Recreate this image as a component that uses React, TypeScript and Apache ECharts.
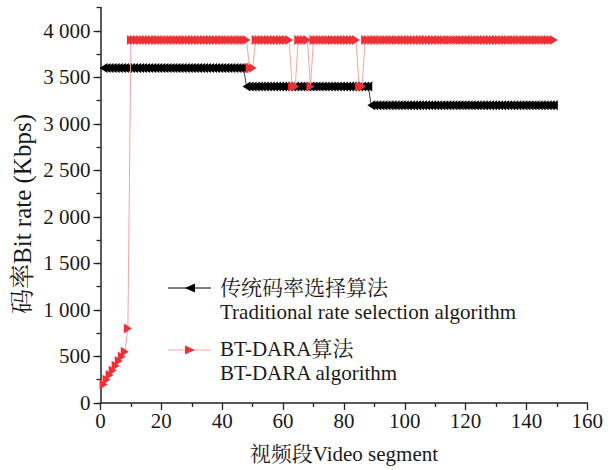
import React, { useEffect, useRef } from "react";
import * as echarts from "echarts";

// ---- Data ----
const xTicks = { min: 0, max: 160, interval: 20 };
const yTicks = { min: 0, max: 4250, interval: 500 };
const yMajorValues = [0, 500, 1000, 1500, 2000, 2500, 3000, 3500, 4000];

// Traditional rate selection: runs of [fromSegment, toSegment, bitrate]
const traditionalRuns: [number, number, number][] = [
  [1, 47, 3600],
  [48, 88, 3400],
  [89, 149, 3200],
];

// BT-DARA start-up ramp, segments 1..9
const btdaraRampStart = 1;
const btdaraRamp = [200, 250, 300, 350, 400, 450, 500, 550, 800];
// BT-DARA afterwards: runs of [fromSegment, toSegment, bitrate]
const btdaraRuns: [number, number, number][] = [
  [10, 48, 3900],
  [49, 50, 3600],
  [51, 62, 3900],
  [63, 64, 3400],
  [65, 68, 3900],
  [69, 69, 3400],
  [70, 84, 3900],
  [85, 86, 3400],
  [87, 149, 3900],
];

const seriesNames = ["传统码率选择算法", "BT-DARA算法"];
const legendEnglish = ["Traditional rate selection algorithm", "BT-DARA algorithm"];
const xName = "视频段Video segment";
const yName = "码率Bit rate (Kbps)";

function expandRuns(runs: [number, number, number][]): [number, number][] {
  const out: [number, number][] = [];
  runs.forEach(([a, b, v]) => {
    for (let x = a; x <= b; x++) out.push([x, v]);
  });
  return out;
}

const traditionalData = expandRuns(traditionalRuns);
const btdaraData: [number, number][] = [
  ...btdaraRamp.map((v, i) => [btdaraRampStart + i, v] as [number, number]),
  ...expandRuns(btdaraRuns),
];

const FONT = '"Liberation Serif", "Times New Roman", "Noto Serif CJK SC", "Noto Sans CJK SC", serif';
const RED = "#EE3036";
const TEXT = "#1a1a1a";
const LEFT_TRI = "path://M8,0L0,5L8,10Z";
const RIGHT_TRI = "path://M0,0L8,5L0,10Z";

function fmt(v: number): string {
  return String(v).replace(/\B(?=(\d{3})+(?!\d))/g, " ");
}

export default function App() {
  const ref = useRef<HTMLDivElement>(null);
  useEffect(() => {
    document.body.style.margin = "0";
    if (!ref.current) return;
    const chart = echarts.init(ref.current, undefined, { renderer: "svg" });
    const axisLine = { show: true, lineStyle: { color: "#222", width: 1.5 } };
    chart.setOption({
      animation: false,
      backgroundColor: "#fff",
      grid: { left: 100.5, right: 23.7, top: 7.5, bottom: 67, containLabel: false },
      xAxis: {
        type: "value",
        min: xTicks.min,
        max: xTicks.max,
        interval: xTicks.interval,
        name: xName,
        nameLocation: "middle",
        nameGap: 40,
        nameTextStyle: { fontFamily: FONT, fontSize: 21, color: TEXT },
        axisLine,
        axisTick: { show: true, inside: false, length: 7, lineStyle: { color: "#222", width: 1.3 } },
        minorTick: { show: true, splitNumber: 2, length: 4, lineStyle: { color: "#222", width: 1.3 } },
        splitLine: { show: false },
        axisLabel: { fontFamily: FONT, fontSize: 21, color: TEXT, margin: 7 },
      },
      yAxis: [
        {
          type: "value",
          min: yTicks.min,
          max: yTicks.max,
          interval: yTicks.interval,
          axisLine,
          axisTick: {
            show: true,
            length: 7,
            customValues: yMajorValues,
            lineStyle: { color: "#222", width: 1.3 },
          },
          splitLine: { show: false },
          axisLabel: {
            fontFamily: FONT,
            fontSize: 21,
            color: TEXT,
            margin: 10,
            customValues: yMajorValues,
            formatter: (v: number) => (v > 4000 ? "" : fmt(v)),
          },
        },
        {
          type: "value",
          min: yTicks.min,
          max: yTicks.max,
          interval: yTicks.interval / 2,
          position: "left",
          axisLine: { show: false },
          axisTick: { show: true, length: 4, lineStyle: { color: "#222", width: 1.3 } },
          axisLabel: { show: false },
          splitLine: { show: false },
        },
      ],
      series: [
        {
          name: seriesNames[0],
          type: "line",
          data: traditionalData,
          yAxisIndex: 0,
          symbol: LEFT_TRI,
          symbolSize: [8, 10],
          itemStyle: { color: "#000" },
          lineStyle: { color: "#444", width: 1 },
          z: 2,
        },
        {
          name: seriesNames[1],
          type: "line",
          data: btdaraData,
          yAxisIndex: 0,
          symbol: RIGHT_TRI,
          symbolSize: [8, 10],
          itemStyle: { color: RED },
          lineStyle: { color: "#F5A3A3", width: 1 },
          z: 3,
        },
      ],
      graphic: [
        {
          type: "text",
          x: 22,
          y: 214,
          rotation: Math.PI / 2,
          style: {
            text: yName,
            font: `25px ${FONT}`,
            fill: TEXT,
            align: "center",
            verticalAlign: "middle",
          },
        },
        { type: "line", shape: { x1: 168, y1: 288, x2: 211, y2: 288 }, style: { stroke: "#000", lineWidth: 1 } },
        { type: "polygon", shape: { points: [[185, 288], [195, 283.5], [195, 292.5]] }, style: { fill: "#000" } },
        {
          type: "text",
          left: 220,
          top: 277,
          style: { text: seriesNames[0], font: `21px ${FONT}`, fill: TEXT },
        },
        {
          type: "text",
          left: 220,
          top: 301,
          style: { text: legendEnglish[0], font: `21px ${FONT}`, fill: TEXT },
        },
        { type: "line", shape: { x1: 168, y1: 350, x2: 211, y2: 350 }, style: { stroke: "#F7A5A5", lineWidth: 1 } },
        { type: "polygon", shape: { points: [[185, 345.5], [195, 350], [185, 354.5]] }, style: { fill: RED } },
        {
          type: "text",
          left: 220,
          top: 338,
          style: { text: seriesNames[1], font: `21px ${FONT}`, fill: TEXT },
        },
        {
          type: "text",
          left: 220,
          top: 362,
          style: { text: legendEnglish[1], font: `21px ${FONT}`, fill: TEXT },
        },
      ],
    });
    return () => chart.dispose();
  }, []);
  return <div ref={ref} style={{ width: 611, height: 470 }} />;
}
